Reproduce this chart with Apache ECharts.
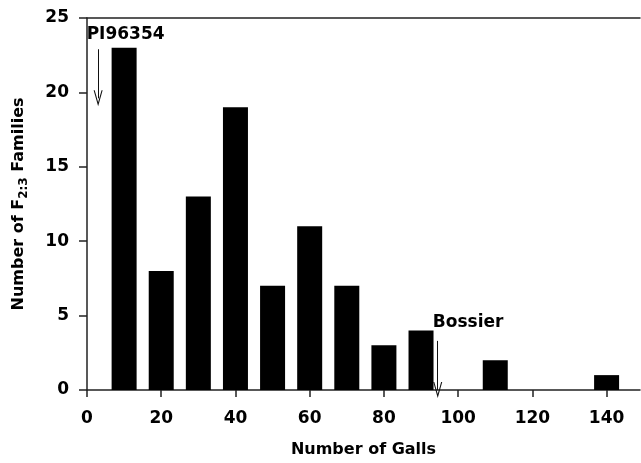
<!DOCTYPE html>
<html>
<head>
<meta charset="utf-8">
<script src="https://cdn.jsdelivr.net/npm/echarts@6/dist/echarts.min.js"></script>
<style>
  html, body { margin: 0; padding: 0; background: #fff; }
  #chart { width: 641px; height: 463px; }
</style>
</head>
<body>
<div id="chart"></div>
<script>
// gall classes (x) and number of F2:3 families (y)
const galls = [10, 20, 30, 40, 50, 60, 70, 80, 90, 100, 110, 120, 130, 140]
const families = [23, 8, 13, 19, 7, 11, 7, 3, 4, 0, 2, 0, 0, 1]
const xTicks = [0, 20, 40, 60, 80, 100, 120, 140]
// parent lines marked with arrows: [name, galls, arrow top, arrow bottom]
const parents = [
  ['PI96354', 3, 22.9, 19.6],
  ['Bossier', 94.5, 3.3, 0]
]
const parentLabels = [
  ['PI96354', 10.4, 23.9],
  ['Bossier', 102.7, 4.5]
]

const font = 'DejaVu Sans'
const chart = echarts.init(document.getElementById('chart'))
// open V arrow head, drawn pointing up (echarts rotates it)
const vHead = 'path://M0,12 L5,0 L10,12 L8.8,12 L5,3 L1.2,12 Z'

const option = {
  backgroundColor: '#fff',
  animation: false,
  grid: { left: 87, right: 1, top: 18, bottom: 71 },
  xAxis: [
    {
      type: 'value',
      min: 0,
      max: 149,
      name: 'Number of Galls',
      nameLocation: 'middle',
      nameGap: 52,
      nameTextStyle: { fontFamily: font, fontWeight: 'bold', fontSize: 16, color: '#000' },
      axisLine: { show: true, lineStyle: { color: '#222', width: 1.5 } },
      axisTick: { show: true, length: 7, customValues: xTicks, lineStyle: { color: '#222', width: 1.5 } },
      axisLabel: {
        customValues: xTicks,
        margin: 20,
        fontFamily: font,
        fontWeight: 'bold',
        fontSize: 17,
        color: '#000',
      },
      splitLine: { show: false },
    },
    {
      // top frame line only
      type: 'value',
      position: 'top',
      min: 0,
      max: 149,
      axisLine: { show: true, lineStyle: { color: '#222', width: 1.5 } },
      axisTick: { show: false },
      axisLabel: { show: false },
      splitLine: { show: false },
    },
  ],
  yAxis: {
    type: 'value',
    min: 0,
    max: 25,
    interval: 5,
    name: 'Number of F{sub|2:3} Families',
    nameLocation: 'middle',
    nameGap: 57,
    nameTextStyle: {
      fontFamily: font,
      fontWeight: 'bold',
      fontSize: 16,
      color: '#000',
      lineHeight: 22,
      rich: {
        sub: { fontFamily: font, fontWeight: 'bold', fontSize: 12, color: '#000', verticalAlign: 'bottom', lineHeight: 12 },
      },
    },
    axisLine: { show: true, lineStyle: { color: '#222', width: 1.5 } },
    axisTick: { show: true, length: 8, lineStyle: { color: '#222', width: 1.5 } },
    axisLabel: {
      margin: 18,
      fontFamily: font,
      fontWeight: 'bold',
      fontSize: 17,
      color: '#000',
    },
    splitLine: { show: false },
  },
  series: [
    {
      type: 'bar',
      barWidth: 25,
      itemStyle: { color: '#000' },
      data: galls.map((g, i) => [g, families[i]]),
    },
    {
      // arrows and parent labels
      type: 'scatter',
      symbolSize: 0,
      silent: true,
      itemStyle: { opacity: 1, color: '#000' },
      data: parentLabels.map((p) => ({ name: p[0], value: [p[1], p[2]] })),
      label: {
        show: true,
        position: 'inside',
        formatter: '{b}',
        fontFamily: font,
        fontWeight: 'bold',
        fontSize: 17,
        color: '#000',
        opacity: 1,
      },
      markLine: {
        silent: true,
        symbol: ['none', vHead],
        symbolSize: [9, 16],
        label: { show: false },
        lineStyle: { color: '#111', width: 1, type: 'solid', opacity: 1 },
        data: parents.map((p) => [
          { coord: [p[1], p[2]] },
          { coord: [p[1], p[3]] },
        ]),
      },
    },
  ],
}
chart.setOption(option)
</script>
</body>
</html>
